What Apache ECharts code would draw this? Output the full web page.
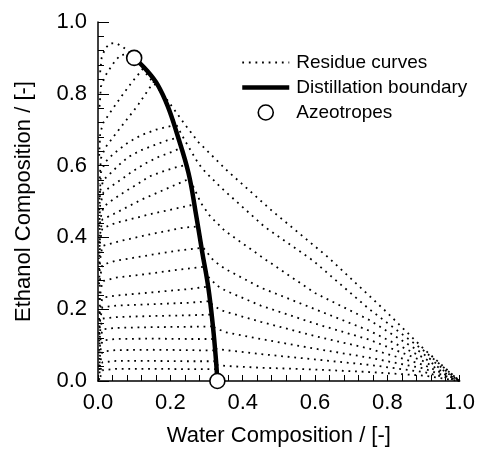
<!DOCTYPE html>
<html>
<head>
<meta charset="utf-8">
<script src="https://cdn.jsdelivr.net/npm/echarts@6/dist/echarts.min.js"></script>
<style>
  html, body { margin: 0; padding: 0; background: #fff; }
  #main { width: 478px; height: 452px; }
</style>
</head>
<body>
<div id="main"></div>
<script>
// axis ticks
const tickLabels = ["0.0", "0.2", "0.4", "0.6", "0.8", "1.0"];

// azeotropes [water, ethanol]
const azeotropes = [[0.1, 0.9], [0.33, 0.0]];

// distillation boundary
const boundary = [
  [0.1, 0.9], [0.135, 0.865], [0.165, 0.825], [0.193, 0.765], [0.218, 0.69],
  [0.25, 0.58], [0.27, 0.47], [0.288, 0.36], [0.305, 0.26], [0.318, 0.15],
  [0.326, 0.06], [0.33, 0.0]
];

// residue curves, water-rich side (end at pure water)
const r1 = [[0.11, 0.885], [0.15, 0.835], [0.19, 0.785], [0.24, 0.715], [0.278, 0.665], [0.31, 0.633], [0.356, 0.587], [0.48, 0.475], [0.637, 0.344], [0.8, 0.19], [0.9, 0.09], [1, 0]];
const r2 = [[0.2, 0.745], [0.24, 0.67], [0.278, 0.605], [0.296, 0.583], [0.342, 0.537], [0.46, 0.43], [0.595, 0.335], [0.75, 0.2], [0.9, 0.085], [1, 0]];
const r3 = [[0.255, 0.56], [0.285, 0.495], [0.31, 0.459], [0.351, 0.418], [0.462, 0.339], [0.6, 0.245], [0.75, 0.17], [0.9, 0.075], [1, 0]];
const r4 = [[0.292, 0.37], [0.32, 0.335], [0.352, 0.312], [0.45, 0.26], [0.6, 0.2], [0.75, 0.14], [0.9, 0.065], [1, 0]];
const r5 = [[0.305, 0.29], [0.33, 0.265], [0.352, 0.252], [0.45, 0.21], [0.6, 0.16], [0.75, 0.115], [0.9, 0.055], [1, 0]];
const r6 = [[0.313, 0.215], [0.335, 0.2], [0.352, 0.193], [0.45, 0.165], [0.6, 0.125], [0.75, 0.09], [0.9, 0.045], [1, 0]];
const r7 = [[0.32, 0.15], [0.338, 0.142], [0.352, 0.136], [0.45, 0.117], [0.6, 0.09], [0.75, 0.065], [0.9, 0.035], [1, 0]];
const r8 = [[0.325, 0.09], [0.352, 0.086], [0.45, 0.075], [0.6, 0.06], [0.75, 0.045], [0.9, 0.025], [1, 0]];
const r9 = [[0.328, 0.045], [0.352, 0.042], [0.45, 0.037], [0.6, 0.032], [0.75, 0.025], [0.9, 0.015], [1, 0]];

// residue curves, ethanol/entrainer side (run down the left axis)
const t0 = [[0.1, 0.9], [0.085, 0.918], [0.069, 0.93], [0.052, 0.94], [0.034, 0.941], [0.02, 0.927], [0.01, 0.9], [0.005, 0.85]];
const l20 = [[0.09, 0.912], [0.062, 0.908], [0.046, 0.89], [0.034, 0.872], [0.02, 0.85], [0.008, 0.82], [0.004, 0.76]];
const l19 = [[0.125, 0.87], [0.103, 0.844], [0.089, 0.826], [0.075, 0.807], [0.062, 0.789], [0.035, 0.75], [0.015, 0.72], [0.006, 0.69], [0.003, 0.62]];
const l18 = [[0.155, 0.835], [0.112, 0.771], [0.098, 0.752], [0.084, 0.734], [0.05, 0.69], [0.02, 0.65], [0.008, 0.62], [0.004, 0.55]];
const l17 = [[0.2, 0.71], [0.16, 0.7], [0.12, 0.685], [0.084, 0.665], [0.066, 0.651], [0.043, 0.633], [0.02, 0.61], [0.008, 0.58], [0.004, 0.5]];
const l16 = [[0.21, 0.675], [0.19, 0.67], [0.153, 0.656], [0.117, 0.642], [0.084, 0.624], [0.057, 0.601], [0.029, 0.573], [0.015, 0.56], [0.006, 0.53], [0.003, 0.46]];
const l15 = [[0.22, 0.645], [0.204, 0.638], [0.167, 0.624], [0.131, 0.606], [0.094, 0.583], [0.062, 0.56], [0.029, 0.537], [0.015, 0.525], [0.006, 0.49], [0.003, 0.42]];
const l14 = [[0.235, 0.6], [0.218, 0.596], [0.177, 0.583], [0.14, 0.569], [0.112, 0.55], [0.075, 0.528], [0.034, 0.5], [0.015, 0.485], [0.006, 0.45], [0.003, 0.38]];
const l13 = [[0.245, 0.56], [0.213, 0.546], [0.12, 0.505], [0.043, 0.465], [0.012, 0.45], [0.006, 0.41], [0.003, 0.34]];
const l12 = [[0.258, 0.49], [0.241, 0.486], [0.15, 0.466], [0.048, 0.44], [0.012, 0.425], [0.006, 0.39], [0.003, 0.31]];
const l11 = [[0.27, 0.43], [0.236, 0.427], [0.15, 0.41], [0.062, 0.39], [0.012, 0.376], [0.006, 0.34], [0.003, 0.27]];
const l10 = [[0.28, 0.37], [0.22, 0.363], [0.15, 0.352], [0.05, 0.335], [0.012, 0.324], [0.006, 0.29], [0.003, 0.22]];
const l9 = [[0.29, 0.318], [0.22, 0.31], [0.15, 0.3], [0.05, 0.288], [0.012, 0.278], [0.006, 0.24], [0.003, 0.17]];
const l8 = [[0.298, 0.262], [0.25, 0.256], [0.15, 0.247], [0.05, 0.238], [0.012, 0.232], [0.006, 0.2], [0.003, 0.13]];
const l7 = [[0.305, 0.222], [0.25, 0.218], [0.15, 0.214], [0.05, 0.21], [0.012, 0.205], [0.006, 0.17], [0.003, 0.1]];
const l6 = [[0.31, 0.185], [0.25, 0.183], [0.15, 0.181], [0.05, 0.178], [0.012, 0.174], [0.006, 0.14], [0.003, 0.07]];
const l5 = [[0.315, 0.152], [0.25, 0.151], [0.15, 0.15], [0.05, 0.148], [0.012, 0.144], [0.006, 0.11], [0.003, 0.04]];
const l4 = [[0.318, 0.117], [0.25, 0.117], [0.15, 0.118], [0.05, 0.117], [0.012, 0.113], [0.006, 0.08], [0.003, 0.02]];
const l3 = [[0.321, 0.085], [0.25, 0.086], [0.15, 0.087], [0.05, 0.086], [0.012, 0.082], [0.006, 0.05], [0.003, 0.0]];
const l2 = [[0.324, 0.055], [0.25, 0.055], [0.15, 0.056], [0.05, 0.056], [0.012, 0.052], [0.006, 0.025]];
const l1 = [[0.326, 0.033], [0.25, 0.033], [0.15, 0.034], [0.05, 0.034], [0.012, 0.03], [0.006, 0.01]];

const residueCurves = [r1, r2, r3, r4, r5, r6, r7, r8, r9,
  t0, l20, l19, l18, l17, l16, l15, l14, l13, l12, l11, l10, l9, l8, l7, l6, l5, l4, l3, l2, l1];

const chart = echarts.init(document.getElementById("main"));

const font = "Liberation Sans, Arial, sans-serif";

function makeAxis(name, nameGap, nameRotate, majorLen) {
  return {
    type: "value",
    min: 0,
    max: 1,
    interval: 0.2,
    name: name,
    nameLocation: "middle",
    nameGap: nameGap,
    nameRotate: nameRotate,
    nameTextStyle: { color: "#000", fontSize: 22, fontFamily: font },
    axisLine: { show: true, onZero: false, lineStyle: { color: "#000", width: 1.5 } },
    axisTick: { show: true, inside: true, length: majorLen, lineStyle: { color: "#000", width: 1 } },
    minorTick: { show: true, splitNumber: 5, length: 6, lineStyle: { color: "#000", width: 1 } },
    axisLabel: {
      color: "#000", fontSize: 22, fontFamily: font, margin: 11,
      formatter: (v) => tickLabels[Math.round(v * 5)]
    },
    splitLine: { show: false }
  };
}

const xAxis = makeAxis("Water Composition / [-]", 44, 0, 6);
const yAxis = makeAxis("Ethanol Composition / [-]", 63, 90, 11);

const series = residueCurves.map((pts) => ({
  name: "Residue curves",
  type: "line",
  data: pts,
  symbol: "none",
  silent: true,
  z: 2,
  lineStyle: { color: "#000", width: 1.8, type: [1.8, 4.8] }
}));

series.push({
  name: "Distillation boundary",
  type: "line",
  data: boundary,
  symbol: "none",
  smooth: 0.4,
  silent: true,
  z: 3,
  lineStyle: { color: "#000", width: 4.5 }
});

series.push({
  name: "Azeotropes",
  type: "scatter",
  data: azeotropes,
  symbol: "circle",
  symbolSize: 15,
  silent: true,
  z: 4,
  itemStyle: { color: "#fff", borderColor: "#000", borderWidth: 1.6, opacity: 1 }
});

chart.setOption({
  animation: false,
  grid: { left: 98, right: 18, top: 22, bottom: 67 },
  xAxis: xAxis,
  yAxis: yAxis,
  legend: {
    orient: "vertical",
    left: 235,
    top: 48,
    itemWidth: 47,
    itemHeight: 15,
    itemGap: 6,
    textStyle: { color: "#000", fontSize: 19, fontFamily: font, padding: [0, 0, 0, 2] },
    data: [
      { name: "Residue curves", itemStyle: { opacity: 0 }, lineStyle: { width: 1.8, type: [1.8, 4.8] } },
      { name: "Distillation boundary", itemStyle: { opacity: 0 }, lineStyle: { width: 4.5 } },
      { name: "Azeotropes", itemStyle: { color: "#fff", borderColor: "#000", borderWidth: 1.6, opacity: 1 } }
    ]
  },
  series: series
});
</script>
</body>
</html>
